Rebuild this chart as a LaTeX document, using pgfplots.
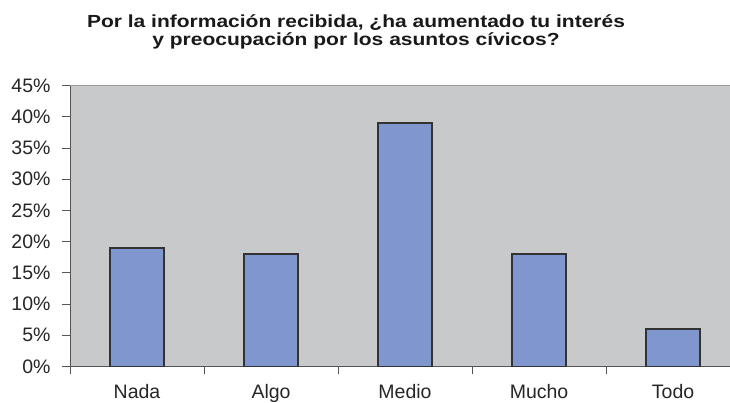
\documentclass[border=0pt]{standalone}
\usepackage{pgfplots}
\pgfplotsset{compat=1.18}
\usepackage{fontspec}
\setmainfont{Liberation Sans}
\newfontfamily\titlefont[FakeStretch=1.2]{Liberation Sans}
\definecolor{bgc}{RGB}{200,201,203}
\definecolor{barc}{RGB}{128,150,206}
\definecolor{axc}{RGB}{85,85,85}
\begin{document}
\begin{tikzpicture}
\begin{axis}[
  at={(70pt,36.5pt)}, anchor=south west,
  scale only axis,
  width=660pt, height=281pt,
  xmin=-0.5, xmax=4.425,
  ymin=0, ymax=45,
  axis lines*=left,
  axis background/.style={fill=bgc},
  x axis line style={draw=axc, line width=1.2pt, -},
  y axis line style={draw=axc, line width=1pt, -},
  xtick={0,1,2,3,4},
  xticklabels={Nada,Algo,Medio,Mucho,Todo},
  minor xtick={-0.5,0.5,1.5,2.5,3.5},
  major x tick style={draw=none},
  minor x tick style={draw=axc, line width=0.8pt},
  minor tick length=8pt,
  major tick length=8pt,
  tick align=outside,
  ytick={0,5,...,45},
  yticklabel={\pgfmathprintnumber{\tick}\%},
  ytick style={draw=axc, line width=0.8pt},
  /pgf/number format/assume math mode=true,
  ticklabel style={font=\fontsize{19.5}{22}\selectfont, text=black!85},
  xticklabel style={yshift=-6.5pt},
  yticklabel style={xshift=-8pt},
  ybar, bar width=54pt,
  clip=false,
]
\addplot[fill=barc, draw=black!80, line width=1.5pt] coordinates {(0,19) (1,18) (2,39) (3,18) (4,6)};
\draw[draw=black!40, line width=1.2pt] (rel axis cs:0,1) -- (rel axis cs:1,1);
\end{axis}
\node[align=center, font=\fontsize{17.5}{18.5}\titlefont\bfseries, text=black!90, anchor=north] at (356pt,392pt) {Por la información recibida, ¿ha aumentado tu interés\\y preocupación por los asuntos cívicos?};
\pgfresetboundingbox
\useasboundingbox (0pt,0pt) rectangle (730pt,403pt);
\end{tikzpicture}
\end{document}
